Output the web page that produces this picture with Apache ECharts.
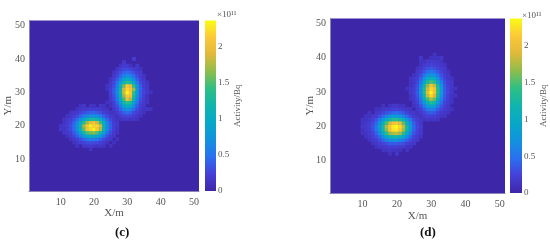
<!DOCTYPE html>
<html><head><meta charset="utf-8">
<style>html,body{margin:0;padding:0;background:#fff}#m{width:550px;height:242px;filter:blur(0.45px)}</style>
<script src="https://cdn.jsdelivr.net/npm/echarts@6/dist/echarts.min.js"></script>
</head><body><div id="m"></div><script>
// values in units of 1e10 Bq; rows listed from high Y to low Y
const colorStops = ['#3E26A8','#4640D8','#2A70F0','#1292DE','#07A8C8','#10B4AE','#2DBF85','#8DBD4C','#E0B93A','#FCC838','#F9FB15'];
const activityMax = 2.37;
const colorbarTicks = [0,0.5,1,1.5,2];

const cUpperX0 = 23, cUpperY0 = 40;
const cUpper = [
[0,0,0,0,0,0,0,0,0,2,0,0,0,0,0],
[0,0,0,0,0,0,1.8,0,0,0,0,0,0,0,0],
[0,0,0,0,0,1.4,2,1.8,1.2,0,1.6,0,0,0,0],
[0,0,0,0,1.4,2.2,2.8,3,2.6,2,1.6,1.2,0,0,0],
[0,0,0,1.2,2,3,4,4.6,4,3,2.2,1.8,0,0,0],
[0,0,0,1.6,2.6,4.2,6.2,7,6.2,4.6,3,2,1.2,0,0],
[0,0,1.2,2,3.6,6.2,9,10.2,9,6.8,4,2.4,1.6,0,0],
[0,0,1.6,2.6,4.8,8.2,12,14,12.5,9.6,5.6,3,2,1.2,0],
[0,1.2,1.6,3,5.8,10.5,16,21,19.5,14,7.6,3.8,2,1.6,0],
[0,1.2,2,3.6,6.4,11.5,18.5,22,20.5,17,8.4,4,2.4,1.6,0],
[0,0,2,3.8,6.8,12,18.5,23.5,21,14,8,3.8,2.6,1.6,1.2],
[0,0,1.8,3.2,6.2,11,17,21,20,13,7.2,3.8,2.2,1.2,0],
[0,0,1.6,2.8,5.2,9.6,14.5,20,17.5,11.5,6.2,3.2,2,1.2,0],
[0,1.2,1.2,2.2,4.2,7.8,12,14,13,9,5,2.6,1.8,1.2,0],
[0,0,1.2,2,3.2,5.8,9,10.5,9.6,6.6,3.8,2.2,1.6,0,0],
[0,0,0,1.6,2.4,4.2,6.2,7.2,6.4,4.6,2.8,1.8,1.2,1.6,1.2],
[0,0,0,1.2,1.8,2.8,3.8,4.6,4,2.8,2,1.6,1.2,0,0],
[0,0,0,0,1.2,2,2.4,2.6,2.4,2,1.6,1.2,0,0,0],
[0,0,0,0,0,1.2,1.6,1.6,1.2,1.6,1.2,0,0,0,0]
];
const cLowerX0 = 10, cLowerY0 = 26;
const cLower = [
[0,0,0,0,0,0,1.2,1.6,0,1.2,1.2,0,1.6,1.2,0,0,0,0],
[0,0,0,0,0,1.2,1.6,1.8,1.8,2.2,2.2,2,1.8,1.6,1.2,0,0,0],
[0,0,0,1.2,1.6,1.8,2.4,3,3.6,4,4.2,3.6,3,2.2,1.8,1.2,1.2,0],
[0,0,1.2,1.6,2,2.8,4,5.8,6.4,7.2,7.4,6.8,5.8,4,2.8,1.8,1.6,1.2],
[0,1.2,1.6,2,3,4.6,6.8,9.4,11,12.5,13,12,9.8,6.8,4.4,2.8,1.8,1.2],
[0,1.2,1.8,2.4,4,6.4,10,13.5,17,19.5,20.5,18.5,14.5,10,6.2,3.6,2,1.6],
[1.2,1.6,2,3,4.6,7.2,11.5,17,21,23,22,22,18.5,11.5,7,4,2.2,1.6],
[1.6,1.2,2,2.8,4.4,7,11,15.5,20.5,22,23.5,21,17.5,11,6.6,3.8,2.2,1.2],
[0,1.6,1.6,2.2,3.6,5.6,9,12,15,16,16.5,15,12,8.8,5,3,1.8,1.2],
[0,0,1.2,1.8,2.6,4,5.8,8.2,9.6,10.5,10.5,9.6,7.8,5.4,3.2,2,1.6,0],
[0,0,0,1.2,1.6,2.2,3.2,4.2,5.2,5.8,5.8,5.2,4,2.8,2,1.6,0,1.2],
[0,0,0,0,1.2,1.6,2,2.4,2.8,3,2.8,2.8,2.2,1.8,1.2,0,1.2,0],
[0,0,0,0,0,1.2,0,1.6,1.6,1.8,1.6,1.2,1.6,1.2,0,1.2,0,0],
[0,0,0,0,0,0,0,0,0,1.2,0,0,0,0,0,0,0,0]
];
const dUpperX0 = 23, dUpperY0 = 41;
const dUpper = [
[0,0,0,0,0,0,0,0,1.2,0,0,0,0,0,0],
[0,0,0,0,1.6,0,0,1.2,1.2,1.2,1.6,0,0,0,0],
[0,0,0,0,1.2,1.2,1.8,1.8,1.8,1.6,1.2,0,0,0,0],
[0,0,0,0,1.2,1.8,2.2,2.4,2.2,2,1.6,1.2,0,0,0],
[0,0,0,1.2,1.6,2.4,3.2,3.6,3.2,2.6,2,1.6,0,0,0],
[0,0,0,1.6,2.2,3.4,4.6,5.2,4.6,3.6,2.4,1.8,1.2,0,0],
[0,0,1.2,1.8,3,5,7,7.8,7,5.2,3.2,2,1.6,0,0],
[0,1.2,1.6,2.2,4,7,10,11,10.2,7.6,4.2,2.4,1.6,1.2,0],
[0,1.2,1.6,2.6,5.2,9.4,13,15,13.5,10,5.8,3.2,2,1.6,0],
[0,1.2,1.8,3.2,6.4,11.5,16.5,20.5,18,12.5,7.2,3.6,2.2,1.6,0],
[1.2,1.6,2,3.4,7.2,13,18.5,22,20.5,14,8,3.8,2.4,1.6,1.2],
[0,1.6,2,3.6,7.2,13,19.5,23.5,20.5,14,8,3.8,2.4,1.6,0],
[0,1.2,1.8,3.2,6.4,12,18,22,19,13,7.2,3.6,2.2,1.2,1.2],
[0,1.2,1.6,2.8,5.4,10,14.5,17.5,15.5,10.5,6,3.2,2,1.2,0],
[0,0,1.6,2.2,4.4,7.8,11.5,13.5,12,8.4,4.6,2.6,1.8,1.2,0],
[0,0,1.2,1.8,3.2,5.6,8.2,9.4,8.6,5.8,3.4,2.2,1.6,0,0],
[0,0,0,1.6,2.2,3.6,5.4,6.2,5.6,3.8,2.4,1.8,1.6,1.2,0],
[0,0,0,1.2,1.8,2.4,3.4,3.8,3.4,2.4,1.8,1.6,1.2,0,0],
[0,0,0,0,1.2,1.8,2.2,2.2,2,1.8,1.2,1.2,0,0,0],
[0,0,0,0,0,1.2,1.6,1.2,1.6,1.2,0,0,0,0,0]
];
const dLowerX0 = 10, dLowerY0 = 26;
const dLower = [
[0,0,0,0,0,0,1.2,0,1.2,1.6,1.6,1.2,1.2,0,0,0,0,0],
[0,0,0,0,1.2,1.2,1.6,1.8,2,2.2,2.4,2.2,1.8,1.6,1.2,0,0,0],
[0,0,1.2,0,1.6,1.8,2.4,3.2,3.8,4.4,4.6,4.2,3.4,2.4,1.8,1.6,1.2,0],
[0,1.2,1.2,1.6,2,3,4.4,6.2,7.4,8.2,8.4,7.8,6.2,4.4,3,2,1.6,1.2],
[1.2,1.2,1.6,2.2,3.2,5,7.8,10.2,12,13.5,14,12.5,10.4,7.8,5,3,2,1.6],
[1.2,1.6,2,2.8,4.4,7.2,11,15,18.5,20.5,21,19.5,15.5,11,7,4,2.4,1.6],
[1.6,1.6,2.2,3.2,5.2,8.2,12.5,17.5,21,23,23.5,22,18,12.5,7.8,4.4,2.6,1.8],
[1.2,1.6,2,3,5,7.8,12,16.5,20.5,22.5,23,21,17,12,7.4,4.2,2.4,1.6],
[1.2,1.2,1.8,2.4,4,6.4,9.8,13.5,16.5,17.5,18,17,13.5,9.8,6,3.4,2.2,1.6],
[0,1.2,1.6,2,3,4.4,6.8,9.4,11,12,12,11.2,9.4,6.8,4.2,2.4,1.8,1.2],
[0,0,1.2,1.6,2,3,4.2,5.6,6.6,7.2,7.2,6.4,5.4,4,2.8,2,1.6,0],
[0,0,0,1.2,1.6,2,2.4,3,3.6,3.6,3.6,3.4,3,2.2,1.8,1.6,0,0],
[0,0,0,0,1.2,1.6,1.6,1.8,2,2,2,1.8,1.8,1.2,1.2,0,0,0],
[0,0,0,0,0,0,1.2,1.2,1.6,1.2,1.2,1.2,0,1.2,0,0,0,0],
[0,0,0,0,0,0,0,0,1.2,0,1.6,0,0,0,0,0,0,0]
];

const cells = Array.from({length:51},(_,i)=>String(i+1));
function build(patches){
  const g = Array.from({length:51},()=>new Array(51).fill(0));
  patches.forEach(([rows,x0,y0])=>rows.forEach((r,j)=>r.forEach((v,i)=>{
    const x=x0+i-1, y=y0-j-1; g[y][x]=Math.max(g[y][x],v/10);
  })));
  const out=[];
  for(let y=0;y<51;y++)for(let x=0;x<51;x++)if(g[y][x]>0)out.push([x,y,g[y][x]]);
  return out;
}
const dataC = build([[cUpper,cUpperX0,cUpperY0],[cLower,cLowerX0,cLowerY0]]);
const dataD = build([[dUpper,dUpperX0,dUpperY0],[dLower,dLowerX0,dLowerY0]]);

const font='"Liberation Serif"', grey='#555';
const frames=[
 {l:29,t:20.5,w:170,h:170.5,bl:205,bw:11,data:dataC,tag:'(c)',tx:115,ty:234,ex:225,yg:15,xg:17,et:15},
 {l:330,t:18.5,w:175,h:174.5,bl:510,bw:12,data:dataD,tag:'(d)',tx:420,ty:234,ex:530,yg:14,xg:18,et:16}
];
const grid=[],xAxis=[],yAxis=[],series=[],visualMap=[],graphic=[];
const grad={type:'linear',x:0,y:1,x2:0,y2:0,colorStops:colorStops.map((c,i)=>({offset:i/10,color:c}))};
const tickFn=(i,v)=>+v%10===0;
frames.forEach((f,k)=>{
  const a=k*2,b=k*2+1;
  grid.push({left:f.l,top:f.t,width:f.w,height:f.h,show:true,backgroundColor:colorStops[0],borderWidth:0,outerBoundsMode:'none'});
  grid.push({left:f.bl,top:f.t,width:f.bw,height:f.h,outerBoundsMode:'none'});
  xAxis.push({type:'category',gridIndex:a,data:cells,name:'X/m',nameLocation:'middle',nameGap:f.xg,nameMoveOverlap:false,
    nameTextStyle:{fontFamily:font,fontSize:11,color:grey},
    axisLine:{lineStyle:{color:'#8b85b5',width:1}},axisTick:{show:false},splitLine:{show:false},
    axisLabel:{interval:tickFn,fontFamily:font,fontSize:10,color:grey,margin:6}});
  yAxis.push({type:'category',gridIndex:a,data:cells,name:'Y/m',nameLocation:'middle',nameGap:f.yg,nameMoveOverlap:false,
    nameTextStyle:{fontFamily:font,fontSize:11,color:grey},
    axisLine:{lineStyle:{color:'#8b85b5',width:1}},axisTick:{show:false},splitLine:{show:false},
    axisLabel:{interval:tickFn,fontFamily:font,fontSize:10,color:grey,margin:4}});
  xAxis.push({type:'category',gridIndex:b,data:['Activity'],axisLine:{show:false},axisTick:{show:false},axisLabel:{show:false}});
  yAxis.push({type:'value',gridIndex:b,position:'right',min:0,max:activityMax,interval:0.5,
    name:'Activity/Bq',nameLocation:'middle',nameGap:15,nameRotate:90,
    nameTextStyle:{fontFamily:font,fontSize:9,color:grey},
    splitLine:{show:false},axisLine:{show:false},axisTick:{show:false},
    axisLabel:{fontFamily:font,fontSize:9,color:grey,margin:2,showMaxLabel:false,
      formatter:v=>colorbarTicks.includes(v)?String(v):''}});
  series.push({type:'heatmap',xAxisIndex:a,yAxisIndex:a,data:f.data,progressive:0,animation:false,itemStyle:{borderWidth:0}});
  series.push({type:'bar',xAxisIndex:b,yAxisIndex:b,data:[activityMax],barWidth:'100%',silent:true,animation:false,itemStyle:{color:grad}});
  visualMap.push({show:false,type:'continuous',min:0,max:activityMax,seriesIndex:k*2,inRange:{color:colorStops}});
  graphic.push({type:'text',left:f.ex-8,top:f.et-5,style:{text:'×10¹¹',font:'9px '+font,fill:grey}});
  graphic.push({type:'text',left:f.tx,top:f.ty-8,style:{text:f.tag,font:'bold 13px '+font,fill:'#111'}});
});
const chart=echarts.init(document.getElementById('m'),null,{renderer:'canvas'});
chart.setOption({animation:false,backgroundColor:'#fff',grid,xAxis,yAxis,series,visualMap,graphic});
</script></body></html>
